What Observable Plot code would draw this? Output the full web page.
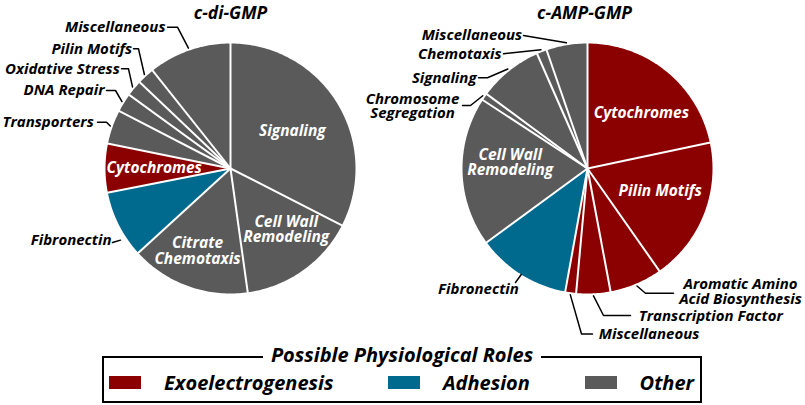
<!DOCTYPE html>
<html><head><meta charset="utf-8">
<script src="https://cdn.jsdelivr.net/npm/d3@7"></script>
<script src="https://cdn.jsdelivr.net/npm/@observablehq/plot@0.6"></script>
<style>
body{margin:0;background:#fff;font-family:"Open Sans",sans-serif;}
#wrap{position:relative;width:805px;height:405px;overflow:hidden;}
#legend{position:absolute;left:102px;top:356px;width:600px;height:47px;box-sizing:border-box;border:2px solid #000;
  display:flex;justify-content:space-between;align-items:center;padding:6px 6px 0 5px;}
#legend .ttl{position:absolute;left:0;right:0;top:-16px;text-align:center;line-height:26px;}
#legend .ttl span{background:#fff;padding:0 8px;font-weight:bold;font-style:italic;font-size:20px;}
#legend .item{display:flex;align-items:center;font-weight:bold;font-style:italic;font-size:20px;}
#legend .sw{width:32px;height:13px;margin-right:23px;}
</style></head><body>
<div id="wrap"><div id="chart"></div><div id="legend"></div></div>
<script>
// ---- data ----
const roles = ["Exoelectrogenesis", "Adhesion", "Other"];
const roleColors = ["#8b0000", "#006a8e", "#5a5a5a"];

const leftTitle = "c-di-GMP";
const leftCats = ["Signaling","Cell Wall Remodeling","Citrate Chemotaxis","Fibronectin","Cytochromes","Transporters","DNA Repair","Oxidative Stress","Pilin Motifs","Miscellaneous"];
const leftValues = [32.5, 15.3, 15.4, 8.7, 6.3, 4.4, 2.4, 2.1, 2.2, 10.7];
const leftRoles = ["Other","Other","Other","Adhesion","Exoelectrogenesis","Other","Other","Other","Other","Other"];

const rightTitle = "c-AMP-GMP";
const rightCats = ["Cytochromes","Pilin Motifs","Aromatic Amino Acid Biosynthesis","Transcription Factor","Miscellaneous","Fibronectin","Cell Wall Remodeling","Chromosome Segregation","Signaling","Chemotaxis","Miscellaneous"];
const rightValues = [21.7, 18.6, 6.8, 4.4, 1.4, 12.1, 19.3, 0.9, 8.3, 1.3, 5.3];
const rightRoles = ["Exoelectrogenesis","Exoelectrogenesis","Exoelectrogenesis","Exoelectrogenesis","Exoelectrogenesis","Adhesion","Other","Other","Other","Other","Other"];

// ---- layout ----
const W = 805, H = 350, R = 125;
const pies = {
  L: {title: leftTitle, cats: leftCats, values: leftValues, roles: leftRoles, cx: 230, cy: 168, tx: 230},
  R: {title: rightTitle, cats: rightCats, values: rightValues, roles: rightRoles, cx: 587, cy: 168, tx: 584}
};
const innerLabels = [
  {pie:"L", i:0, text:"Signaling", r:0.58, da:0},
  {pie:"L", i:1, text:"Cell Wall\nRemodeling", r:0.66, da:-7},
  {pie:"L", i:2, text:"Citrate\nChemotaxis", r:0.71, da:2},
  {pie:"L", i:4, text:"Cytochromes", r:0.61, da:0},
  {pie:"R", i:0, text:"Cytochromes", r:0.62, da:5},
  {pie:"R", i:1, text:"Pilin Motifs", r:0.61, da:-4},
  {pie:"R", i:6, text:"Cell Wall\nRemodeling", r:0.62, da:6}
];
const outerLabels = [
  {pie:"L", i:9, text:"Miscellaneous", tx:165, ty:26.7, anchor:"end", lx:167, ly:26.7, ex:177},
  {pie:"L", i:8, text:"Pilin Motifs", tx:131.7, ty:48.3, anchor:"end", lx:133, ly:48.3, ex:138},
  {pie:"L", i:7, text:"Oxidative Stress", tx:119.3, ty:68.3, anchor:"end", lx:121, ly:68.3, ex:128},
  {pie:"L", i:6, text:"DNA Repair", tx:104, ty:90, anchor:"end", lx:106, ly:90, ex:115},
  {pie:"L", i:5, text:"Transporters", tx:93.3, ty:121.7, anchor:"end", lx:97, ly:121.7, ex:106},
  {pie:"L", i:3, text:"Fibronectin", tx:111, ty:240, anchor:"end", lx:112, ly:242, ex:112, f:0.3, r:1.05},
  {pie:"R", i:10, text:"Miscellaneous", tx:521.7, ty:35, anchor:"end", lx:523, ly:35, ex:523},
  {pie:"R", i:9, text:"Chemotaxis", tx:501, ty:53.3, anchor:"end", lx:503, ly:53.3, ex:503},
  {pie:"R", i:8, text:"Signaling", tx:476, ty:77.3, anchor:"end", lx:478, ly:77.3, ex:487},
  {pie:"R", i:7, text:"Chromosome\nSegregation", tx:412, ty:106, anchor:"middle", lx:462, ly:105, ex:470, lh:0.93},
  {pie:"R", i:5, text:"Fibronectin", tx:518.3, ty:289, anchor:"end", lx:515, ly:282, ex:515, r:1.0},
  {pie:"R", i:4, text:"Miscellaneous", tx:598.3, ty:334, anchor:"start", lx:592, ly:333.5, ex:581},
  {pie:"R", i:3, text:"Transcription Factor", tx:638.3, ty:316, anchor:"start", lx:630, ly:315, ex:603},
  {pie:"R", i:2, text:"Aromatic Amino\nAcid Biosynthesis", tx:740, ty:291.5, anchor:"middle", lx:673, ly:292.7, ex:645, lh:1.0}
];

// ---- geometry from data ----
const slices = {};
for (const [key, p] of Object.entries(pies)) {
  const arcs = d3.pie().sort(null).value(d => d)(p.values);
  slices[key] = arcs.map((a, i) => ({key, i, id: key + i, cat: p.cats[i], role: p.roles[i],
    a0: a.startAngle, a1: a.endAngle, cx: p.cx, cy: p.cy}));
}
const pt = (s, ang, r) => ({x: s.cx + r * R * Math.sin(ang), y: s.cy - r * R * Math.cos(ang)});
const polys = [], bounds = [];
for (const key of Object.keys(slices)) for (const s of slices[key]) {
  const n = Math.max(2, Math.ceil((s.a1 - s.a0) / (Math.PI / 180)));
  polys.push({x: s.cx, y: s.cy, id: s.id, role: s.role});
  for (let k = 0; k <= n; k++) {
    const q = pt(s, s.a0 + (s.a1 - s.a0) * k / n, 1);
    polys.push({...q, id: s.id, role: s.role});
  }
  polys.push({x: s.cx, y: s.cy, id: s.id, role: s.role});
  const e = pt(s, s.a0, 1.005);
  bounds.push({x1: s.cx, y1: s.cy, x2: e.x, y2: e.y});
}
const inner = innerLabels.map(l => {
  const s = slices[l.pie][l.i];
  const q = pt(s, (s.a0 + s.a1) / 2 + l.da * Math.PI / 180, l.r);
  return {...q, text: l.text};
});
const leaders = [];
outerLabels.forEach((l, j) => {
  const s = slices[l.pie][l.i];
  const f = l.f ?? 0.5, r = l.r ?? 1.02;
  const e = pt(s, s.a0 + (s.a1 - s.a0) * f, r);
  leaders.push({x: l.lx, y: l.ly, z: j}, {x: l.ex, y: l.ly, z: j}, {x: e.x, y: e.y, z: j});
});
const titles = Object.values(pies).map(p => ({x: p.tx, y: 13, text: p.title}));

const font = "'Open Sans', sans-serif";
const txt = (data, opts) => Plot.text(data, {x: "x", y: "y", text: "text", fontFamily: font, fontWeight: "bold", fontStyle: "italic", lineAnchor: "middle", ...opts});

const outerMarks = [];
for (const a of ["start", "middle", "end"]) {
  const single = outerLabels.filter(l => l.anchor === a && !l.text.includes("\n"));
  if (single.length) outerMarks.push(txt(single, {x: "tx", y: "ty", fill: "black", fontSize: 15, textAnchor: a}));
}
for (const l of outerLabels.filter(l => l.text.includes("\n"))) {
  outerMarks.push(txt([l], {x: "tx", y: "ty", fill: "black", fontSize: 15, textAnchor: l.anchor, lineHeight: l.lh}));
}

const chart = Plot.plot({
  width: W, height: H, margin: 0,
  x: {domain: [0, W], range: [0, W], axis: null},
  y: {domain: [0, H], range: [0, H], axis: null},
  color: {domain: roles, range: roleColors},
  style: {background: "white", overflow: "visible"},
  marks: [
    Plot.line(polys, {x: "x", y: "y", z: "id", fill: "role", stroke: "none", curve: "linear"}),
    Plot.link(bounds, {x1: "x1", y1: "y1", x2: "x2", y2: "y2", stroke: "white", strokeWidth: 2}),
    Plot.line(leaders, {x: "x", y: "y", z: "z", stroke: "black", strokeWidth: 1.5, curve: "linear"}),
    txt(inner, {fill: "white", fontSize: 15.5, lineHeight: 1.0, textAnchor: "middle"}),
    ...outerMarks,
    txt(titles, {fill: "black", fontSize: 17.5, textAnchor: "middle"})
  ]
});
document.getElementById("chart").appendChild(chart);

// ---- legend ----
const lg = document.getElementById("legend");
const t = document.createElement("div"); t.className = "ttl";
t.innerHTML = "<span>Possible Physiological Roles</span>"; lg.appendChild(t);
roles.forEach((r, i) => {
  const it = document.createElement("div"); it.className = "item";
  it.innerHTML = `<div class="sw" style="background:${roleColors[i]}"></div><span>${r}</span>`;
  lg.appendChild(it);
});
</script></body></html>
